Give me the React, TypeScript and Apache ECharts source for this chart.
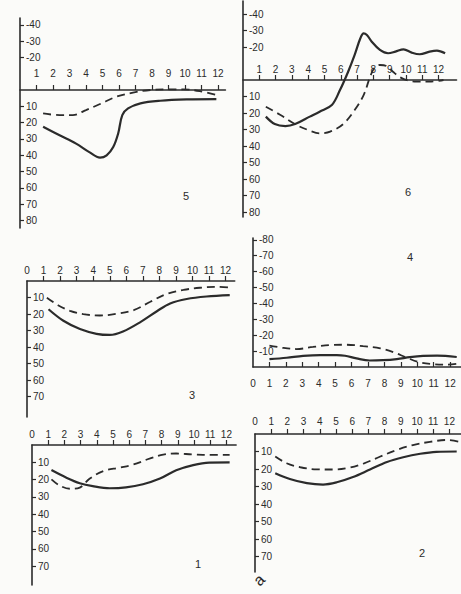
import React, { useEffect, useRef } from "react";
import * as echarts from "echarts";

// ---- data (months on x, values on y; positive values plotted downward) ----
const xTicks = [1, 2, 3, 4, 5, 6, 7, 8, 9, 10, 11, 12];
const xLabelsFrom0 = [0, 1, 2, 3, 4, 5, 6, 7, 8, 9, 10, 11, 12];
const yTicksTop = [-40, -30, -20, 10, 20, 30, 40, 50, 60, 70, 80];
const yTicksLower = [10, 20, 30, 40, 50, 60, 70];
const yTicksP4 = [-80, -70, -60, -50, -40, -30, -20, -10];

// panel 5 (top left)
const p5SolidX = [1.4, 2.4, 3.4, 4.2, 4.85, 5.25, 5.65, 5.95, 6.2, 6.55, 7.3, 8.5, 10.1, 11.9];
const p5SolidY = [22.6, 27.8, 32.9, 38.1, 41.5, 40.1, 35, 26.7, 15.4, 11.3, 8.2, 6.6, 5.8, 5.6];
const p5DashX = [1.4, 2.4, 3.2, 4.0, 4.85, 5.85, 6.85, 7.9, 8.9, 9.9, 10.9, 12.0];
const p5DashY = [14.4, 15.4, 15.4, 12.3, 8.6, 4.1, 1.6, 0, -0.4, -0.4, 0.7, 3.3];

// panel 6 (top right)
const p6SolidX = [1.4, 1.95, 2.6, 3.2, 4.1, 4.7, 5.45, 5.95, 6.45, 6.85, 7.2, 7.4, 7.6, 7.9, 8.4, 8.9, 9.35, 9.85, 10.35, 10.85, 11.45, 11.9, 12.4];
const p6SolidY = [22.2, 26.7, 27.9, 26.7, 22.2, 19.2, 15.2, 6.1, -5, -15.2, -25.3, -28.3, -27.3, -23.2, -18.2, -16.2, -17.2, -18.6, -16.6, -15.6, -17.2, -17.8, -16.2];
const p6DashX = [1.4, 2.3, 3.3, 4.1, 4.7, 5.35, 6.15, 6.85, 7.4, 7.8, 8.05, 8.4, 8.8, 9.2, 9.65, 10.15, 10.65, 11.45, 12.3];
const p6DashY = [16.2, 21.2, 27.3, 30.7, 32.3, 31.3, 26.7, 18.2, 9.1, -2, -7.1, -9.1, -8.5, -5, -1.6, 0.4, 1, 1, 0];

// panel 3 (middle left)
const p3SolidX = [1.3, 2.2, 3.2, 4.2, 5.0, 5.8, 6.85, 7.85, 8.65, 9.65, 10.85, 12.25];
const p3SolidY = [17.1, 24.1, 29.1, 32, 32.7, 30.6, 24.9, 18.3, 13.6, 10.9, 9.4, 8.6];
const p3DashX = [1.2, 1.9, 2.6, 3.4, 4.4, 5.4, 6.45, 7.45, 8.45, 9.45, 10.45, 11.45, 12.25];
const p3DashY = [10.1, 14.8, 18.1, 20.1, 20.9, 19.9, 17.7, 12.6, 7.8, 5.4, 4.1, 3.5, 3.9];

// panel 4 (middle right)
const p4SolidX = [1, 2.05, 3.05, 4.1, 5.1, 5.6, 6.3, 7.1, 7.9, 8.75, 9.55, 10.35, 11.2, 12.4];
const p4SolidY = [-4.9, -5.8, -7, -7.5, -7.5, -7.1, -5.4, -4.1, -4.3, -5, -6.2, -7, -7.2, -6.3];
const p4DashX = [1, 1.85, 2.65, 3.65, 4.7, 5.7, 6.7, 7.75, 8.55, 9.35, 10.15, 10.95, 11.8, 12.5];
const p4DashY = [-13.5, -12, -11.3, -12.6, -13.8, -14, -13.1, -11.7, -9.3, -5.9, -2.9, -1.8, -1.5, -2.1];

// panel 1 (bottom left)
const p1SolidX = [1.2, 2.1, 2.95, 3.75, 4.8, 5.8, 6.85, 7.9, 8.9, 9.95, 10.95, 12.2];
const p1SolidY = [14.5, 18.8, 22.1, 23.8, 25, 24.5, 22.7, 19.4, 14.6, 11.6, 10.2, 10.1];
const p1DashX = [1.2, 1.7, 2.35, 2.95, 3.55, 4.4, 5.4, 6.25, 7.25, 8.1, 8.9, 9.95, 11.15, 12.2];
const p1DashY = [19.9, 23.4, 25.3, 24.6, 19.5, 15.1, 13.1, 11.3, 7.9, 5.5, 4.9, 5.5, 5.7, 5.7];

// panel 2 (bottom right)
const p2SolidX = [1.25, 2.15, 3.2, 4.2, 5.05, 6.05, 7.1, 8.15, 9.15, 10.2, 11.2, 12.45];
const p2SolidY = [22.4, 25.7, 28.1, 28.9, 27.6, 24.6, 20.3, 16, 13.3, 11.3, 10.2, 10];
const p2DashX = [1.25, 1.95, 2.8, 3.8, 4.85, 5.85, 6.7, 7.7, 8.75, 9.75, 10.8, 11.85, 12.55];
const p2DashY = [12.9, 16.7, 19, 20.2, 20.3, 19.2, 16.9, 13, 9.1, 6.3, 4.5, 3.4, 4.3];

const panelNames = ["5", "6", "3", "4", "1", "2"];

// ---- layout (pixels) ----
type Layout = {
  x0: number; pxM: number; xmax: number; y0: number; px10: number;
  yTop: number; yBottom: number; xPos: "top" | "bottom";
  xLabels: number[]; yTicks: number[]; labelMargin: number;
  nameX: number; nameY: number;
};

const layouts: Layout[] = [
  { x0: 20, pxM: 16.5, xmax: 12.45, y0: 90, px10: 16.3, yTop: 18, yBottom: 228, xPos: "top", xLabels: xTicks, yTicks: yTicksTop, labelMargin: 12, nameX: 186, nameY: 196 },
  { x0: 243, pxM: 16.3, xmax: 13.1, y0: 80, px10: 16.5, yTop: 1, yBottom: 217, xPos: "top", xLabels: xTicks, yTicks: yTicksTop, labelMargin: 6, nameX: 408, nameY: 192 },
  { x0: 27, pxM: 16.55, xmax: 12.55, y0: 281, px10: 16.5, yTop: 281, yBottom: 417, xPos: "top", xLabels: xLabelsFrom0, yTicks: yTicksLower, labelMargin: 6, nameX: 192, nameY: 395 },
  { x0: 253, pxM: 16.43, xmax: 12.7, y0: 367, px10: 15.9, yTop: 238, yBottom: 367, xPos: "bottom", xLabels: xLabelsFrom0, yTicks: yTicksP4, labelMargin: 11, nameX: 410, nameY: 257 },
  { x0: 32, pxM: 16.2, xmax: 12.6, y0: 445, px10: 17.3, yTop: 445, yBottom: 585, xPos: "top", xLabels: xLabelsFrom0, yTicks: yTicksLower, labelMargin: 6, nameX: 198, nameY: 564 },
  { x0: 255, pxM: 16.2, xmax: 12.7, y0: 434, px10: 17.5, yTop: 434, yBottom: 572, xPos: "top", xLabels: xLabelsFrom0, yTicks: yTicksLower, labelMargin: 8, nameX: 422, nameY: 553 },
];

const seriesData: [number[], number[], number[], number[]][] = [
  [p5SolidX, p5SolidY, p5DashX, p5DashY],
  [p6SolidX, p6SolidY, p6DashX, p6DashY],
  [p3SolidX, p3SolidY, p3DashX, p3DashY],
  [p4SolidX, p4SolidY, p4DashX, p4DashY],
  [p1SolidX, p1SolidY, p1DashX, p1DashY],
  [p2SolidX, p2SolidY, p2DashX, p2DashY],
];

const INK = "#2b2b2b";
const FONT = "Liberation Sans";

function zip(xs: number[], ys: number[]) {
  return xs.map((x, i) => [x, ys[i]]);
}

export default function App() {
  const ref = useRef<HTMLDivElement>(null);
  useEffect(() => {
    document.body.style.margin = "0";
    if (!ref.current) return;
    const chart = echarts.init(ref.current, undefined, { renderer: "svg" });

    const grid: any[] = [];
    const xAxis: any[] = [];
    const yAxis: any[] = [];
    const series: any[] = [];
    const graphic: any[] = [];

    layouts.forEach((L, i) => {
      grid.push({
        left: L.x0,
        top: L.yTop,
        width: L.pxM * L.xmax,
        height: L.yBottom - L.yTop,
        outerBoundsMode: "none",
        containLabel: false,
      });
      // when the zero line lies inside the grid, shift the top x axis down onto it
      const offset = L.xPos === "top" ? -(L.y0 - L.yTop) : 0;
      xAxis.push({
        gridIndex: i,
        type: "value",
        min: 0,
        max: L.xmax,
        position: L.xPos,
        offset,
        axisLine: { show: true, onZero: false, lineStyle: { color: INK, width: 1.6 } },
        axisTick: {
          show: true,
          customValues: xTicks,
          length: 5,
          inside: L.xPos === "bottom",
          lineStyle: { color: INK, width: 1.2 },
        },
        axisLabel: {
          show: true,
          customValues: L.xLabels,
          margin: L.labelMargin,
          fontSize: 10,
          fontFamily: FONT,
          color: INK,
          formatter: (v: number) => String(Math.round(v)),
        },
        splitLine: { show: false },
      });
      yAxis.push({
        gridIndex: i,
        type: "value",
        inverse: true,
        min: -((L.y0 - L.yTop) / L.px10) * 10,
        max: ((L.yBottom - L.y0) / L.px10) * 10,
        axisLine: { show: true, onZero: false, lineStyle: { color: INK, width: 1.6 } },
        axisTick: {
          show: true,
          customValues: L.yTicks,
          length: 4,
          inside: true,
          lineStyle: { color: INK, width: 1.2 },
        },
        axisLabel: {
          show: true,
          inside: true,
          customValues: L.yTicks,
          margin: 6,
          fontSize: 10,
          fontFamily: FONT,
          color: INK,
          formatter: (v: number) => String(Math.round(v)),
        },
        splitLine: { show: false },
      });
      const [sx, sy, dx, dy] = seriesData[i];
      series.push({
        type: "line",
        xAxisIndex: i,
        yAxisIndex: i,
        data: zip(sx, sy),
        smooth: 0.35,
        showSymbol: false,
        lineStyle: { color: INK, width: 2.2 },
        z: 3,
      });
      series.push({
        type: "line",
        xAxisIndex: i,
        yAxisIndex: i,
        data: zip(dx, dy),
        smooth: 0.35,
        showSymbol: false,
        lineStyle: { color: INK, width: 1.8, type: [8, 5] },
        z: 3,
      });
      graphic.push({
        type: "text",
        x: L.nameX,
        y: L.nameY,
        style: {
          text: panelNames[i],
          fill: INK,
          font: `11px "${FONT}"`,
          textAlign: "center",
          textVerticalAlign: "middle",
        },
      });
    });

    graphic.push({
      type: "text",
      x: 259,
      y: 580,
      rotation: Math.PI / 4,
      style: {
        text: "a",
        fill: INK,
        font: `16px "${FONT}"`,
        textAlign: "center",
        textVerticalAlign: "middle",
      },
    });

    chart.setOption({
      animation: false,
      backgroundColor: "#fbfbf9",
      grid,
      xAxis,
      yAxis,
      series,
      graphic,
    });
    return () => chart.dispose();
  }, []);

  return (
    <div
      ref={ref}
      style={{ position: "absolute", left: 0, top: 0, width: 461, height: 594 }}
    />
  );
}
